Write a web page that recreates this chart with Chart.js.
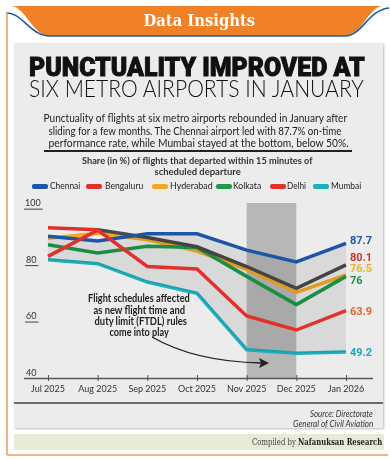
<!DOCTYPE html>
<html><head><meta charset="utf-8">
<script src="https://cdn.jsdelivr.net/npm/chart.js@4.4.1/dist/chart.umd.min.js"></script>
<style>
html,body{margin:0;padding:0;background:#fff;}
body{width:390px;height:459px;position:relative;overflow:hidden;font-family:Lato,"Open Sans",sans-serif;}
.abs{position:absolute;}
.fit{position:absolute;white-space:nowrap;line-height:1;z-index:3;}
#panel{left:14px;top:43px;width:369px;height:385px;background:#ececec;box-shadow:1px 1px 2px #bbb;}
#strip{left:14px;top:434px;width:370px;height:16px;background:#e9e9d8;}
#cv{position:absolute;left:0;top:0;z-index:2;}
.sw{position:absolute;height:4.5px;border-radius:2px;z-index:3;}
</style></head>
<body>
<svg class="abs" style="left:0;top:0;z-index:1" width="390" height="459">
  <path d="M12,6 L382,6 C368,8 362,35 345,36 L50,36 C32,35 26,8 12,6 Z" fill="#f08126"/>
  <path d="M6,13 C22,12 30,36 50,36 L345,36 C362,36 368,10 389,8" fill="none" stroke="#1e5aa6" stroke-width="1.6"/>
  <line x1="7" y1="12" x2="7" y2="455" stroke="#ec9a5a" stroke-width="1.5"/>
  <line x1="7" y1="455" x2="388" y2="455" stroke="#ec9a5a" stroke-width="1.5"/>
</svg>
<div id="panel" class="abs"></div>
<div id="strip" class="abs"></div>
<div class="abs" style="left:44px;top:150px;width:308px;height:1.5px;background:#222;z-index:3"></div>
<div class="abs" style="left:14px;top:402px;width:369px;height:2px;background:#6a6a6a;z-index:3"></div>

<div class="fit" data-x="199" data-y="20" data-w="112" style="font:bold 17px 'DejaVu Serif',serif;color:#fff">Data Insights</div>
<div class="fit" data-x="197" data-y="67" data-w="336" style="font-family:Roboto,Inter,sans-serif;font-weight:900;font-size:25px;color:#111;-webkit-text-stroke:0.9px #111">PUNCTUALITY IMPROVED AT</div>
<div class="fit" data-x="196" data-y="88" data-w="335" style="font-weight:300;font-size:23px;color:#111">SIX METRO AIRPORTS IN JANUARY</div>
<div class="fit" data-x="195" data-y="117" data-w="304" style="font-size:11px;color:#222">Punctuality of flights at six metro airports rebounded in January after</div>
<div class="fit" data-x="195" data-y="130" data-w="293" style="font-size:11px;color:#222">sliding for a few months. The Chennai airport led with 87.7% on-time</div>
<div class="fit" data-x="198" data-y="142" data-w="300" style="font-size:11px;color:#222">performance rate, while Mumbai stayed at the bottom, below 50%.</div>
<div class="fit" data-x="197" data-y="160" data-w="230" style="font-size:10px;font-weight:bold;color:#333">Share (in %) of flights that departed within 15 minutes of</div>
<div class="fit" data-x="197" data-y="171" data-w="86" style="font-size:10px;font-weight:bold;color:#333">scheduled departure</div>

<div class="fit" data-x="139" data-y="298" data-w="102" style="font-size:10.5px;font-weight:bold;color:#222">Flight schedules affected</div>
<div class="fit" data-x="139" data-y="310" data-w="92" style="font-size:10.5px;font-weight:bold;color:#222">as new flight time and</div>
<div class="fit" data-x="140" data-y="321" data-w="92" style="font-size:10.5px;font-weight:bold;color:#222">duty limit (FTDL) rules</div>
<div class="fit" data-x="139" data-y="332" data-w="59" style="font-size:10.5px;font-weight:bold;color:#222">come into play</div>

<div class="fit" data-x="373" data-y="413" data-w="63" data-a="r" style="font-size:9px;font-style:italic;color:#333">Source: Directorate</div>
<div class="fit" data-x="373" data-y="423" data-w="80" data-a="r" style="font-size:9px;font-style:italic;color:#333">General of Civil Aviation</div>
<div class="fit" data-x="382" data-y="442" data-w="130" data-a="r" style="font:9px 'DejaVu Serif',serif;color:#444">Compiled by <b style="color:#222">Nafanuksan Research</b></div>

<svg class="abs" style="left:0;top:0;z-index:3" width="390" height="459">
  <path d="M152,337 C178,352 215,362 261,363" fill="none" stroke="#222" stroke-width="1.4"/>
  <polygon points="269,363 259,358 261,363 259,368" fill="#222"/>
</svg>

<div id="legend"></div>
<canvas id="cv" width="390" height="459"></canvas>

<script>
// ---- data ----
const months = ["Jul 2025","Aug 2025","Sep 2025","Oct 2025","Nov 2025","Dec 2025","Jan 2026"];
const chennai   = [90.2, 88.5, 91.1, 91.1, 85.3, 81.1, 87.7];
const bengaluru = [93.2, 92.5, 89.8, 86.5, 79.5, 71.8, 80.1];
const hyderabad = [89.5, 91.3, 89.0, 85.0, 78.5, 70.3, 76.5];
const kolkata   = [87.2, 84.3, 86.7, 86.2, 76.0, 66.0, 76.0];
const delhi     = [83.1, 92.4, 79.5, 78.6, 62.0, 57.0, 63.9];
const mumbai    = [81.9, 80.5, 74.0, 70.0, 50.0, 48.8, 49.2];
const seriesNames = ["Chennai","Bengaluru","Hyderabad","Kolkata","Delhi","Mumbai"];
const yTicks = [40, 60, 80, 100];

// ---- styles ----
const lineColor = {Chennai:"#1d56a6",Bengaluru:"#4a4a4a",Hyderabad:"#f4a823",Kolkata:"#1f9b4a",Delhi:"#e2302a",Mumbai:"#1ab0bd"};
const legendColor = {Chennai:"#1d56a6",Bengaluru:"#e2302a",Hyderabad:"#f4a823",Kolkata:"#1f9b4a",Delhi:"#e2302a",Mumbai:"#1ab0bd"};
const endColor = {Chennai:"#1d56a6",Bengaluru:"#d8302b",Hyderabad:"#efb41e",Kolkata:"#1f8f45",Delhi:"#e8642a",Mumbai:"#17aab8"};
const endOffset = {Chennai:-2,Bengaluru:-7,Hyderabad:-6,Kolkata:5,Delhi:2,Mumbai:1};
const seriesData = {Chennai:chennai,Bengaluru:bengaluru,Hyderabad:hyderabad,Kolkata:kolkata,Delhi:delhi,Mumbai:mumbai};

// ---- legend ----
const lgSw = [32,86,152,216,270,313], lgTx=[50,105,170,233,287,331], lgW=[30,38,43,28,19,30];
const lg = document.getElementById('legend');
seriesNames.forEach((n,i)=>{
  const s=document.createElement('div'); s.className='sw';
  s.style.cssText+=`left:${lgSw[i]}px;top:184px;width:16px;background:${legendColor[n]}`;
  lg.appendChild(s);
  const t=document.createElement('div'); t.className='fit'; t.textContent=n;
  t.dataset.x=lgTx[i]; t.dataset.y=186; t.dataset.w=lgW[i]; t.dataset.a='l';
  t.style.cssText+='font-size:9.5px;color:#222';
  lg.appendChild(t);
});

// ---- fit texts ----
document.querySelectorAll('.fit').forEach(el=>{
  const nat=el.offsetWidth, k=(+el.dataset.w)/nat, a=el.dataset.a||'c', x=+el.dataset.x;
  if(a==='c'){el.style.left=(x-nat/2)+'px';el.style.transformOrigin='50% 50%';}
  else if(a==='r'){el.style.left=(x-nat)+'px';el.style.transformOrigin='100% 50%';}
  else {el.style.left=x+'px';el.style.transformOrigin='0 50%';}
  el.style.top=(+el.dataset.y-el.offsetHeight/2)+'px';
  el.style.transform='scaleX('+k+')';
});

// ---- chart ----
const drawOrder = ["Delhi","Chennai","Bengaluru","Kolkata","Hyderabad","Mumbai"];
const mumbaiIdx = drawOrder.indexOf("Mumbai");
const datasets = drawOrder.map(n=>{
  const d = {label:n,data:seriesData[n],borderColor:lineColor[n],borderWidth:3.5,pointRadius:0,tension:0,
    borderJoinStyle:'miter',fill:false};
  if(n==="Bengaluru"){ d.segment={borderColor:c=>c.p0DataIndex===0?"#e2302a":lineColor.Bengaluru}; }
  if(n==="Chennai"){ d.fill={target:mumbaiIdx}; d.backgroundColor='rgba(0,0,0,0.08)'; }
  return d;
});

const deco = {
  id:'deco',
  beforeDraw(chart){
    const {ctx,chartArea:a,scales:{x,y}}=chart;
    ctx.save();
    ctx.fillStyle='rgba(110,110,110,0.42)';
    const x0=x.getPixelForValue(4), x1=x.getPixelForValue(5);
    ctx.fillRect(x0,a.top,x1-x0,a.bottom-a.top);
    ctx.restore();
  },
  afterDraw(chart){
    const {ctx,chartArea:a,scales:{x,y}}=chart;
    ctx.save();
    ctx.font='9px Lato, sans-serif'; ctx.fillStyle='#333'; ctx.strokeStyle='#444';
    ctx.textAlign='left'; ctx.textBaseline='alphabetic';
    yTicks.forEach(v=>{
      const py=y.getPixelForValue(v);
      const t=String(v); const w=ctx.measureText(t).width;
      const lx = v===100?25:26;
      ctx.fillText(t,lx,py-2.5);
      if(v!==40){ctx.lineWidth=1;ctx.beginPath();ctx.moveTo(lx-1,py+0.5);ctx.lineTo(lx+w+2,py+0.5);ctx.stroke();}
    });
    // x axis
    ctx.strokeStyle='#555'; ctx.lineWidth=1.5;
    ctx.beginPath(); ctx.moveTo(24,a.bottom+0.5); ctx.lineTo(373,a.bottom+0.5); ctx.stroke();
    ctx.lineWidth=1; ctx.textAlign='center'; ctx.textBaseline='middle';
    months.forEach((m,i)=>{
      const px=x.getPixelForValue(i);
      ctx.beginPath(); ctx.moveTo(px+0.5,a.bottom-3); ctx.lineTo(px+0.5,a.bottom+3); ctx.stroke();
      ctx.fillText(m,px,a.bottom+11);
    });
    // end labels
    ctx.font='bold 11px Roboto, sans-serif'; ctx.textAlign='left';
    const last=months.length-1;
    seriesNames.forEach(n=>{
      const v=seriesData[n][last];
      ctx.fillStyle=endColor[n];
      ctx.fillText(String(v),a.right+4,y.getPixelForValue(v)+endOffset[n]);
    });
    ctx.restore();
  }
};

new Chart(document.getElementById('cv'),{
  type:'line',
  data:{labels:months,datasets},
  options:{responsive:false,animation:false,devicePixelRatio:1,
    layout:{padding:{left:48,right:44,top:203,bottom:81}},
    scales:{x:{display:false,offset:false},y:{display:false,min:40,max:102}},
    plugins:{legend:{display:false},tooltip:{enabled:false}}},
  plugins:[deco]
});
</script>
</body></html>
